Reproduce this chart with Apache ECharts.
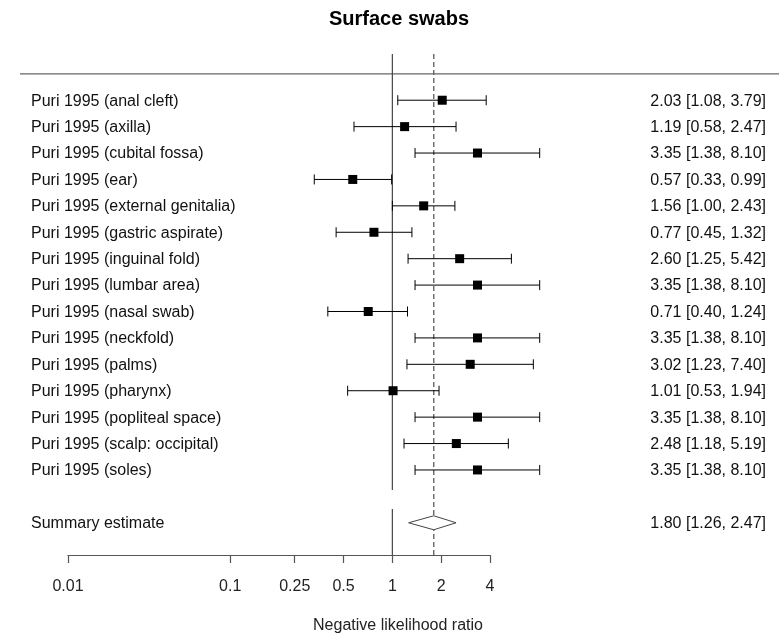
<!DOCTYPE html>
<html><head><meta charset="utf-8">
<script src="https://cdn.jsdelivr.net/npm/echarts@6/dist/echarts.min.js"></script>
<style>html,body{margin:0;padding:0;background:#fff}#c{width:779px;height:636px}</style>
</head><body><div id="c"></div>
<script>
const studies = [
  'Puri 1995 (anal cleft)', 'Puri 1995 (axilla)', 'Puri 1995 (cubital fossa)', 'Puri 1995 (ear)',
  'Puri 1995 (external genitalia)', 'Puri 1995 (gastric aspirate)', 'Puri 1995 (inguinal fold)',
  'Puri 1995 (lumbar area)', 'Puri 1995 (nasal swab)', 'Puri 1995 (neckfold)', 'Puri 1995 (palms)',
  'Puri 1995 (pharynx)', 'Puri 1995 (popliteal space)', 'Puri 1995 (scalp: occipital)', 'Puri 1995 (soles)'
];
const estimates = [2.03, 1.19, 3.35, 0.57, 1.56, 0.77, 2.60, 3.35, 0.71, 3.35, 3.02, 1.01, 3.35, 2.48, 3.35];
const lower     = [1.08, 0.58, 1.38, 0.33, 1.00, 0.45, 1.25, 1.38, 0.40, 1.38, 1.23, 0.53, 1.38, 1.18, 1.38];
const upper     = [3.79, 2.47, 8.10, 0.99, 2.43, 1.32, 5.42, 8.10, 1.24, 8.10, 7.40, 1.94, 8.10, 5.19, 8.10];
const summaryLabel = 'Summary estimate';
const summaryEst = 1.80, summaryLo = 1.26, summaryHi = 2.47;
const tickValues = [0.01, 0.1, 0.25, 0.5, 1, 2, 4];
const titleText = 'Surface swabs';
const xAxisTitle = 'Negative likelihood ratio';

const FONT = 'Arial, "Liberation Sans", sans-serif';
const FS = 16;
const fmt = (e, l, h) => e.toFixed(2) + ' [' + l.toFixed(2) + ', ' + h.toFixed(2) + ']';
const SUMMARY_ROW = studies.length + 2;
const Y_MIN = -0.75, Y_MAX = 18.22;

const studyData = estimates.map((e, i) => [lower[i], e, upper[i], i + 1]);

const chart = echarts.init(document.getElementById('c'), null, {renderer: 'canvas'});
chart.setOption({
  animation: false,
  backgroundColor: '#fff',
  title: [
    {text: titleText, left: 394, textAlign: 'center', top: 4,
     textStyle: {fontFamily: FONT, fontSize: 20, fontWeight: 'bold', color: '#000'}},
    {text: xAxisTitle, left: 393, textAlign: 'center', top: 613,
     textStyle: {fontFamily: FONT, fontSize: FS, fontWeight: 'normal', color: '#222'}}
  ],
  grid: {left: 68, right: 289, top: 54, bottom: 81, containLabel: false},
  xAxis: {
    type: 'log', logBase: 10, min: 0.01, max: 4, position: 'bottom',
    axisLine: {show: true, onZero: false, lineStyle: {color: '#555', width: 1.2}},
    axisTick: {show: true, length: 8, inside: false, customValues: tickValues, lineStyle: {color: '#555', width: 1.2}},
    minorTick: {show: false},
    splitLine: {show: false},
    axisLabel: {customValues: tickValues, margin: 24, fontFamily: FONT, fontSize: FS, color: '#222',
      formatter: v => String(+(+v).toPrecision(3))}
  },
  yAxis: {type: 'value', inverse: true, min: Y_MIN, max: Y_MAX, show: false},
  series: [
    { // reference lines
      type: 'custom', clip: false, silent: true,
      data: [[1, summaryEst]],
      encode: {x: [0, 1]},
      renderItem: (params, api) => {
        const one = api.value(0), est = api.value(1);
        const a = api.coord([one, Y_MIN]), b = api.coord([one, 15.76]);
        const c = api.coord([one, 16.48]), d = api.coord([one, Y_MAX]);
        const e1 = api.coord([est, Y_MIN]), e2 = api.coord([est, Y_MAX]);
        const top = api.coord([one, 0]);
        return {type: 'group', children: [
          {type: 'line', shape: {x1: 20, y1: top[1], x2: api.getWidth(), y2: top[1]}, style: {stroke: '#666', lineWidth: 1.3}},
          {type: 'line', shape: {x1: a[0], y1: a[1], x2: b[0], y2: b[1]}, style: {stroke: '#444', lineWidth: 1.2}},
          {type: 'line', shape: {x1: c[0], y1: c[1], x2: d[0], y2: d[1]}, style: {stroke: '#444', lineWidth: 1.2}},
          {type: 'line', shape: {x1: e1[0], y1: e1[1], x2: e2[0], y2: e2[1]}, style: {stroke: '#666', lineWidth: 1.4, lineDash: [5, 3]}}
        ]};
      }
    },
    { // studies
      type: 'custom', clip: false,
      data: studyData,
      encode: {x: [0, 1, 2], y: 3},
      renderItem: (params, api) => {
        const lo = api.value(0), est = api.value(1), hi = api.value(2), row = api.value(3);
        const pl = api.coord([lo, row]), pe = api.coord([est, row]), ph = api.coord([hi, row]);
        const y = pe[1], s = 9, cap = 5;
        const i = params.dataIndex;
        return {type: 'group', children: [
          {type: 'line', shape: {x1: pl[0], y1: y, x2: ph[0], y2: y}, style: {stroke: '#000', lineWidth: 1}},
          {type: 'line', shape: {x1: pl[0], y1: y - cap, x2: pl[0], y2: y + cap}, style: {stroke: '#000', lineWidth: 1}},
          {type: 'line', shape: {x1: ph[0], y1: y - cap, x2: ph[0], y2: y + cap}, style: {stroke: '#000', lineWidth: 1}},
          {type: 'rect', shape: {x: pe[0] - s / 2, y: y - s / 2, width: s, height: s}, style: {fill: '#000'}},
          {type: 'text', x: 31, y: y + 1, style: {text: studies[i], fontFamily: FONT, fontSize: FS, fill: '#111', align: 'left', verticalAlign: 'middle'}},
          {type: 'text', x: 766, y: y + 1, style: {text: fmt(est, lo, hi), fontFamily: FONT, fontSize: FS, fill: '#111', align: 'right', verticalAlign: 'middle'}}
        ]};
      }
    },
    { // summary diamond
      type: 'custom', clip: false,
      data: [[summaryLo, summaryEst, summaryHi, SUMMARY_ROW]],
      encode: {x: [0, 1, 2], y: 3},
      renderItem: (params, api) => {
        const lo = api.value(0), est = api.value(1), hi = api.value(2), row = api.value(3);
        const pl = api.coord([lo, row]), pe = api.coord([est, row]), ph = api.coord([hi, row]);
        const y = pe[1], h = 7;
        return {type: 'group', children: [
          {type: 'polygon', shape: {points: [[pl[0], y], [pe[0], y - h], [ph[0], y], [pe[0], y + h]]},
           style: {fill: '#fff', stroke: '#444', lineWidth: 1}},
          {type: 'text', x: 31, y: y + 1, style: {text: summaryLabel, fontFamily: FONT, fontSize: FS, fill: '#111', align: 'left', verticalAlign: 'middle'}},
          {type: 'text', x: 766, y: y + 1, style: {text: fmt(est, lo, hi), fontFamily: FONT, fontSize: FS, fill: '#111', align: 'right', verticalAlign: 'middle'}}
        ]};
      }
    }
  ]
});
</script></body></html>
